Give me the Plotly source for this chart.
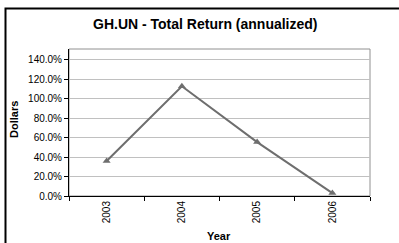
import plotly.graph_objects as go

years = ["2003", "2004", "2005", "2006"]
total_return = [36.0, 113.0, 55.5, 3.0]
y_ticks = [0, 20, 40, 60, 80, 100, 120, 140]
y_tick_labels = ["0.0%", "20.0%", "40.0%", "60.0%", "80.0%", "100.0%", "120.0%", "140.0%"]

W, H = 399, 243
L, R, T, B = 69, 29, 49, 47
pw, ph = W - L - R, H - T - B

def px(x):
    return (x - L) / pw

def py(y):
    return (H - B - y) / ph

font = "Liberation Sans, Arial, sans-serif"

fig = go.Figure()
fig.add_trace(go.Scatter(
    x=years, y=total_return, mode="lines+markers",
    line=dict(color="#6e6e6e", width=2),
    marker=dict(symbol="triangle-up", size=7, color="#6e6e6e"),
    showlegend=False, cliponaxis=False,
))

fig.update_layout(
    width=W, height=H,
    margin=dict(l=L, r=R, t=T, b=B),
    paper_bgcolor="white", plot_bgcolor="white",
    font=dict(family=font, size=10, color="black"),
    xaxis=dict(
        type="category", range=[-0.5, 3.5], tickson="boundaries",
        ticks="outside", ticklen=4, tickcolor="black", tickangle=-90,
        showline=True, linecolor="black", linewidth=1, showgrid=False,
        tickfont=dict(size=10), fixedrange=True,
    ),
    yaxis=dict(
        range=[0, 151.3], tickvals=y_ticks, ticktext=y_tick_labels,
        ticks="outside", ticklen=4, tickcolor="black",
        showline=True, linecolor="black", linewidth=1,
        showgrid=True, gridcolor="#c0c0c0", gridwidth=1, zeroline=False,
        tickfont=dict(size=10), fixedrange=True,
    ),
    shapes=[
        dict(type="rect", xref="paper", yref="paper", x0=0, x1=1, y0=0, y1=1,
             line=dict(color="#909090", width=1), layer="below"),
        dict(type="rect", xref="paper", yref="paper",
             x0=px(5.5), x1=px(410), y0=py(255), y1=py(8.5),
             line=dict(color="black", width=2), layer="above"),
    ],
    annotations=[
        dict(text="<b>GH.UN - Total Return (annualized)</b>", xref="paper", yref="paper",
             x=px(205), y=py(24), showarrow=False, font=dict(size=14),
             xanchor="center", yanchor="middle"),
        dict(text="<b>Dollars</b>", xref="paper", yref="paper",
             x=px(14), y=py(120), showarrow=False, textangle=-90, font=dict(size=11),
             xanchor="center", yanchor="middle"),
        dict(text="<b>Year</b>", xref="paper", yref="paper",
             x=px(219), y=py(235.5), showarrow=False, font=dict(size=11),
             xanchor="center", yanchor="middle"),
    ],
)

fig.write_html(
    "out.html",
    config={"displayModeBar": False},
    post_script="document.body.style.margin='0';document.body.style.overflow='hidden';",
)
